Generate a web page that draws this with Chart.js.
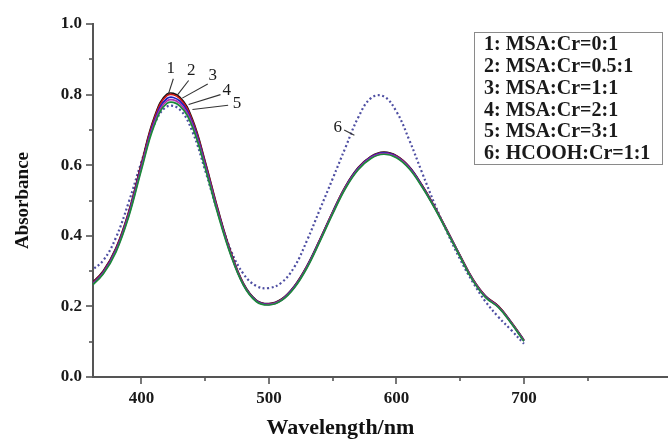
<!DOCTYPE html>
<html>
<head>
<meta charset="utf-8">
<script src="https://cdn.jsdelivr.net/npm/chart.js@4.4.1/dist/chart.umd.min.js"></script>
<style>
html,body{margin:0;padding:0;background:#fff;}
#c{display:block;}
</style>
</head>
<body>
<canvas id="c" width="668" height="440"></canvas>
<script>
// ---- data ----
const wavelengths = [360,370,380,390,400,410,420,430,440,450,460,470,480,490,500,510,520,530,540,550,560,570,580,590,600,610,620,630,640,650,660,670,680,690,700];
const seriesLabels = ["1: MSA:Cr=0:1","2: MSA:Cr=0.5:1","3: MSA:Cr=1:1","4: MSA:Cr=2:1","5: MSA:Cr=3:1","6: HCOOH:Cr=1:1"];
const s1 = [0.262,0.300,0.365,0.468,0.605,0.735,0.801,0.793,0.730,0.610,0.475,0.355,0.265,0.218,0.208,0.221,0.258,0.316,0.390,0.468,0.540,0.593,0.625,0.637,0.627,0.596,0.544,0.482,0.414,0.344,0.277,0.229,0.201,0.156,0.105];
const s2 = [0.260,0.298,0.363,0.466,0.602,0.731,0.797,0.789,0.726,0.607,0.472,0.353,0.264,0.217,0.207,0.220,0.257,0.315,0.389,0.467,0.539,0.592,0.624,0.636,0.626,0.595,0.543,0.481,0.413,0.343,0.276,0.228,0.200,0.155,0.104];
const s3 = [0.258,0.296,0.360,0.462,0.597,0.724,0.789,0.782,0.720,0.602,0.468,0.350,0.262,0.216,0.206,0.219,0.256,0.314,0.388,0.466,0.538,0.591,0.623,0.635,0.625,0.594,0.542,0.480,0.412,0.342,0.275,0.227,0.199,0.154,0.103];
const s4 = [0.256,0.294,0.357,0.458,0.592,0.718,0.782,0.775,0.714,0.597,0.465,0.348,0.261,0.215,0.205,0.218,0.254,0.312,0.386,0.464,0.536,0.589,0.621,0.633,0.623,0.592,0.540,0.479,0.411,0.341,0.274,0.226,0.198,0.153,0.102];
const s5 = [0.255,0.292,0.354,0.454,0.587,0.712,0.775,0.768,0.708,0.592,0.461,0.346,0.260,0.214,0.204,0.217,0.253,0.310,0.384,0.462,0.534,0.587,0.619,0.631,0.621,0.590,0.539,0.478,0.410,0.340,0.273,0.225,0.197,0.152,0.101];
const s6 = [0.300,0.330,0.395,0.495,0.610,0.715,0.766,0.758,0.695,0.585,0.465,0.360,0.292,0.258,0.252,0.268,0.312,0.388,0.475,0.562,0.650,0.735,0.790,0.795,0.752,0.672,0.580,0.490,0.408,0.333,0.268,0.213,0.170,0.133,0.094];
const xTickValues = [400,450,500,550,600,650,700,750];
const xTickLabels = [400,500,600,700];
const yTickValues = [0,0.1,0.2,0.3,0.4,0.5,0.6,0.7,0.8,0.9,1.0];
const yTickLabels = [0,0.2,0.4,0.6,0.8,1.0];
// curve annotation labels: [text, labelX, labelY, lineStartX, lineStartY, lineEndX, lineEndY] in data units
const curveNotes = [
  ["1", 423, 0.875, 425, 0.845, 421, 0.800],
  ["2", 439, 0.868, 437, 0.840, 428, 0.798],
  ["3", 456, 0.855, 452, 0.830, 432, 0.790],
  ["4", 467, 0.812, 462, 0.800, 437, 0.772],
  ["5", 475, 0.776, 468, 0.770, 440, 0.758],
  ["6", 554, 0.708, 559, 0.700, 567, 0.685]
];

const colors = ["#111111","#d01818","#2020c0","#b030b0","#1a8a3a","#4e4ea2"];
const allSeries = [s1,s2,s3,s4,s5,s6];

const datasets = allSeries.map((s,i)=>({
  label: seriesLabels[i],
  data: wavelengths.map((w,k)=>({x:w,y:s[k]})),
  borderColor: colors[i],
  borderWidth: i===5 ? 2.2 : 1.7,
  borderDash: i===5 ? [2,2.5] : [],
  pointRadius: 0,
  tension: 0.4,
  fill: false,
  order: i===5 ? 10 : 5-i
}));

const SERIF = "'Liberation Serif','Times New Roman',serif";

const decor = {
  id: 'decor',
  afterDraw(chart){
    const ctx = chart.ctx;
    const xs = chart.scales.x, ys = chart.scales.y;
    const area = chart.chartArea;
    ctx.save();
    // ticks
    ctx.strokeStyle = '#555';
    ctx.lineWidth = 1.6;
    xTickValues.forEach(v=>{
      const px = Math.round(xs.getPixelForValue(v));
      const len = xTickLabels.includes(v) ? 7 : 4;
      ctx.beginPath(); ctx.moveTo(px, area.bottom); ctx.lineTo(px, area.bottom+len); ctx.stroke();
    });
    yTickValues.forEach(v=>{
      const py = Math.round(ys.getPixelForValue(v));
      const major = yTickLabels.some(t=>Math.abs(t-v)<1e-6);
      const len = major ? 7 : 4;
      ctx.beginPath(); ctx.moveTo(area.left, py); ctx.lineTo(area.left-len, py); ctx.stroke();
    });
    // x axis title, centred under the 360-750 span
    ctx.fillStyle = '#111';
    ctx.font = "bold 22px " + SERIF;
    ctx.textAlign = 'center';
    ctx.textBaseline = 'middle';
    ctx.fillText('Wavelength/nm', (area.left + xs.getPixelForValue(750))/2, 428);
    // legend box
    const bx = 474, by = 32, bw = 188, bh = 132;
    ctx.strokeStyle = '#8a8a8a';
    ctx.lineWidth = 1;
    ctx.strokeRect(bx+0.5, by+0.5, bw, bh);
    ctx.fillStyle = '#1a1a1a';
    ctx.font = "bold 20px " + SERIF;
    ctx.textBaseline = 'middle';
    ctx.textAlign = 'left';
    seriesLabels.forEach((t,i)=>{
      ctx.fillText(t, bx+10, by+13+i*21.8);
    });
    // curve notes
    ctx.font = "17px " + SERIF;
    ctx.textAlign = 'center';
    ctx.strokeStyle = '#333';
    ctx.lineWidth = 1.1;
    curveNotes.forEach(n=>{
      ctx.fillText(n[0], xs.getPixelForValue(n[1]), ys.getPixelForValue(n[2]));
      ctx.beginPath();
      ctx.moveTo(xs.getPixelForValue(n[3]), ys.getPixelForValue(n[4]));
      ctx.lineTo(xs.getPixelForValue(n[5]), ys.getPixelForValue(n[6]));
      ctx.stroke();
    });
    ctx.restore();
  }
};

new Chart(document.getElementById('c'), {
  type: 'line',
  data: { datasets },
  options: {
    responsive: false,
    animation: false,
    devicePixelRatio: 1,
    layout: { padding: { top: 24, right: 0, left: 0, bottom: 0 } },
    plugins: { legend: { display: false }, tooltip: { enabled: false } },
    scales: {
      x: {
        type: 'linear',
        min: 362, max: 813,
        afterBuildTicks: s => { s.ticks = xTickValues.map(v=>({value:v})); },
        afterFit: s => { s.height = 63; },
        grid: { drawOnChartArea: false, drawTicks: true, tickLength: 7, tickColor: 'rgba(0,0,0,0)' },
        border: { display: true, color: '#555', width: 2 },
        ticks: {
          autoSkip: false, maxRotation: 0, padding: 4, color: '#1a1a1a',
          font: { family: SERIF, size: 17, weight: 'bold' },
          callback: v => xTickLabels.includes(v) ? String(v) : ''
        },
        title: { display: false }
      },
      y: {
        min: 0, max: 1,
        afterBuildTicks: s => { s.ticks = yTickValues.map(v=>({value:v})); },
        afterFit: s => { s.width = 93; },
        grid: { drawOnChartArea: false, drawTicks: true, tickLength: 7, tickColor: 'rgba(0,0,0,0)' },
        border: { display: true, color: '#555', width: 2 },
        ticks: {
          autoSkip: false, padding: 4, color: '#1a1a1a',
          font: { family: SERIF, size: 17, weight: 'bold' },
          callback: v => yTickLabels.some(t=>Math.abs(t-v)<1e-6) ? v.toFixed(1) : ''
        },
        title: { display: true, text: 'Absorbance', color: '#111',
          font: { family: SERIF, size: 19, weight: 'bold' }, padding: { top: 12, bottom: 0 } }
      }
    }
  },
  plugins: [decor]
});
</script>
</body>
</html>
